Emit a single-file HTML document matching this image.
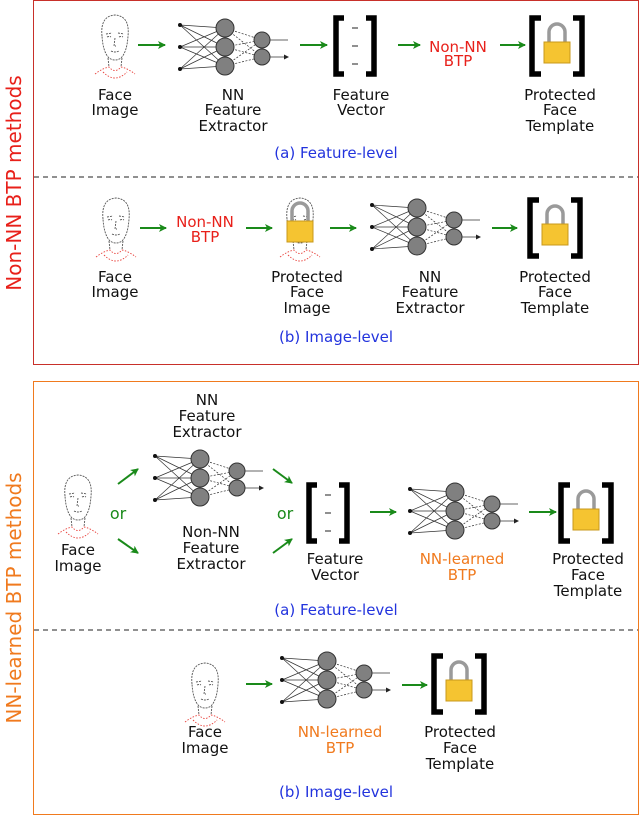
<!DOCTYPE html>
<html><head><meta charset="utf-8"><style>
html,body{margin:0;padding:0;background:#fff;}
svg{display:block;font-family:"DejaVu Sans","Liberation Sans",sans-serif;}
text{font-size:15px;text-anchor:middle;fill:#111;}
.r{fill:#e8201a}.o{fill:#f07a1e}.b{fill:#2233dd}.g{fill:#1a8a1a}
</style></head><body>
<svg width="640" height="817" viewBox="0 0 640 817" xmlns="http://www.w3.org/2000/svg">
<defs>
<marker id="ah" markerWidth="8" markerHeight="8" refX="7" refY="4" orient="auto" markerUnits="userSpaceOnUse">
<path d="M0,0 L8,4 L0,8 L2,4 Z" fill="#1a8a1a"/></marker>
<marker id="sa" markerWidth="5" markerHeight="5" refX="4" refY="2.5" orient="auto" markerUnits="userSpaceOnUse">
<path d="M0,0 L5,2.5 L0,5 Z" fill="#222"/></marker>
<g id="nn">
<g stroke="#333" stroke-width="0.7" fill="none">
<path d="M0,5 L45,8 M0,5 L45,27 M0,5 L45,46 M0,27 L45,8 M0,27 L45,27 M0,27 L45,46 M0,49 L45,8 M0,49 L45,27 M0,49 L45,46"/>
<path d="M45,8 L82,20 M45,8 L82,37 M45,27 L82,20 M45,27 L82,37 M45,46 L82,20 M45,46 L82,37" stroke-dasharray="2,1.5"/>
<path d="M82,20 L108,20 M82,37 L108,37" marker-end="url(#sa)"/>
</g>
<circle cx="0" cy="5" r="2" fill="#111"/><circle cx="0" cy="27" r="2" fill="#111"/><circle cx="0" cy="49" r="2" fill="#111"/>
<g fill="#808080" stroke="#333" stroke-width="1">
<circle cx="45" cy="8" r="9"/><circle cx="45" cy="27" r="9"/><circle cx="45" cy="46" r="9"/>
<circle cx="82" cy="20" r="8"/><circle cx="82" cy="37" r="8"/></g>
</g>
<g id="face">
<g fill="none" stroke="#555" stroke-width="0.9" stroke-dasharray="2,1">
<path d="M7,24 Q5,4 20,3 Q35,4 33,24 Q32,40 26,46 Q20,50 14,46 Q8,40 7,24 Z"/>
<path d="M11,22 L17,21 M23,21 L29,22 M12,25 Q14,24 16,25 M24,25 Q26,24 28,25 M20,26 L19,34 L21,34 M16,39 Q20,41 24,39"/>
<path d="M13,46 L14,55 M27,46 L26,55"/>
</g>
<g fill="none" stroke="#e8403a" stroke-width="0.9" stroke-dasharray="1.5,1.5">
<path d="M0,62 Q8,56 14,55 Q20,62 26,55 Q32,56 40,62"/>
<path d="M8,60 Q20,72 32,60"/></g>
</g>
<g id="lockb">
<path d="M21,24 V14 a8,8 0 0 1 16,0 V24" fill="none" stroke="#9a9a9a" stroke-width="3.5"/>
<rect x="16" y="24" width="26" height="21" fill="#f5c431" stroke="#c8981c"/>
</g>
<g id="tpl">
<path d="M13,0 H4 V56 H13 M45,0 H54 V56 H45" fill="none" stroke="#000" stroke-width="5.5"/>
<use href="#lockb"/>
</g>
<g id="vec">
<path d="M12,0 H4 V56 H12 M34,0 H42 V56 H34" fill="none" stroke="#000" stroke-width="5.5"/>
<path d="M20,10 H26 M20,28 H26 M20,46 H26" stroke="#222" stroke-width="1"/>
</g>
</defs>

<rect x="33.5" y="0.5" width="605" height="364" fill="none" stroke="#c8302a" stroke-width="1"/>
<line x1="34" y1="177" x2="638" y2="177" stroke="#222" stroke-dasharray="5,4"/>
<rect x="33.5" y="381.5" width="605" height="433" fill="none" stroke="#f07a1e" stroke-width="1"/>
<line x1="34" y1="630" x2="638" y2="630" stroke="#222" stroke-dasharray="5,4"/>
<text class="r" transform="translate(21,183) rotate(-90)" style="font-size:20px">Non-NN BTP methods</text>
<text class="o" transform="translate(21,598) rotate(-90)" style="font-size:20px">NN-learned BTP methods</text>

<g stroke="#1a8a1a" stroke-width="2" marker-end="url(#ah)">
<line x1="138" y1="45" x2="165" y2="45"/><line x1="300" y1="45" x2="327" y2="45"/>
<line x1="398" y1="45" x2="420" y2="45"/><line x1="500" y1="45" x2="525" y2="45"/>
<line x1="140" y1="228" x2="166" y2="228"/><line x1="246" y1="228" x2="272" y2="228"/>
<line x1="330" y1="228" x2="356" y2="228"/><line x1="492" y1="228" x2="517" y2="228"/>
<line x1="118" y1="484" x2="138" y2="469"/><line x1="118" y1="539" x2="138" y2="553"/>
<line x1="273" y1="469" x2="292" y2="483"/><line x1="273" y1="553" x2="292" y2="539"/>
<line x1="370" y1="512" x2="396" y2="512"/><line x1="529" y1="512" x2="556" y2="512"/>
<line x1="246" y1="684" x2="272" y2="684"/><line x1="402" y1="685" x2="427" y2="685"/>
</g>

<use href="#face" x="95" y="12"/>
<use href="#nn" x="180" y="20"/>
<use href="#vec" x="332" y="18"/>
<use href="#tpl" x="528" y="18"/>
<text class="r" x="458" y="52">Non-NN</text><text class="r" x="458" y="66">BTP</text>
<text x="115" y="100">Face</text><text x="115" y="115">Image</text>
<text x="233" y="100">NN</text><text x="233" y="115">Feature</text><text x="233" y="131">Extractor</text>
<text x="361" y="100">Feature</text><text x="361" y="115">Vector</text>
<text x="560" y="100">Protected</text><text x="560" y="115">Face</text><text x="560" y="131">Template</text>
<text class="b" x="336" y="158">(a) Feature-level</text>

<use href="#face" x="96" y="195"/>
<text class="r" x="205" y="227">Non-NN</text><text class="r" x="205" y="242">BTP</text>
<use href="#face" x="280" y="195"/>
<use href="#lockb" x="271" y="197"/>
<use href="#nn" x="372" y="200"/>
<use href="#tpl" x="526" y="200"/>
<text x="115" y="282">Face</text><text x="115" y="297">Image</text>
<text x="307" y="282">Protected</text><text x="307" y="297">Face</text><text x="307" y="313">Image</text>
<text x="430" y="282">NN</text><text x="430" y="297">Feature</text><text x="430" y="313">Extractor</text>
<text x="555" y="282">Protected</text><text x="555" y="297">Face</text><text x="555" y="313">Template</text>
<text class="b" x="336" y="342">(b) Image-level</text>

<use href="#face" x="58" y="472"/>
<text class="g" x="118" y="519" style="font-size:16px">or</text>
<text class="g" x="285" y="519" style="font-size:16px">or</text>
<text x="207" y="405">NN</text><text x="207" y="421">Feature</text><text x="207" y="437">Extractor</text>
<use href="#nn" x="155" y="451"/>
<text x="211" y="537">Non-NN</text><text x="211" y="553">Feature</text><text x="211" y="569">Extractor</text>
<use href="#vec" x="305" y="485"/>
<use href="#nn" x="410" y="484"/>
<use href="#tpl" x="557" y="485"/>
<text x="78" y="555">Face</text><text x="78" y="571">Image</text>
<text x="335" y="564">Feature</text><text x="335" y="580">Vector</text>
<text class="o" x="462" y="564">NN-learned</text><text class="o" x="462" y="580">BTP</text>
<text x="588" y="564">Protected</text><text x="588" y="580">Face</text><text x="588" y="596">Template</text>
<text class="b" x="336" y="615">(a) Feature-level</text>

<use href="#face" x="185" y="660"/>
<use href="#nn" x="282" y="653"/>
<use href="#tpl" x="430" y="656"/>
<text x="205" y="737">Face</text><text x="205" y="753">Image</text>
<text class="o" x="340" y="737">NN-learned</text><text class="o" x="340" y="753">BTP</text>
<text x="460" y="737">Protected</text><text x="460" y="753">Face</text><text x="460" y="769">Template</text>
<text class="b" x="336" y="797">(b) Image-level</text>
</svg>
</body></html>
